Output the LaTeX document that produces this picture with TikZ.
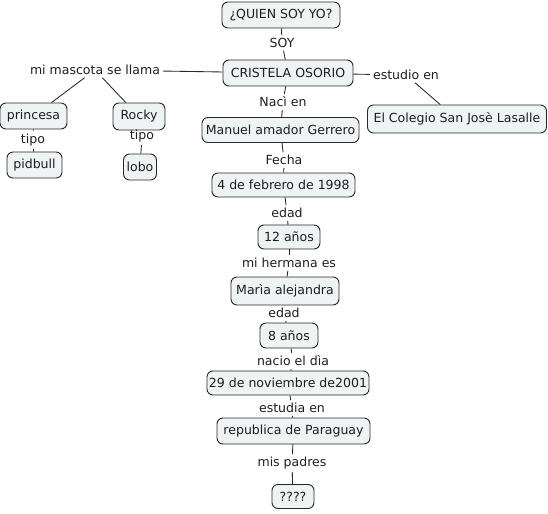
\documentclass[tikz,border=0pt]{standalone}
\usepackage{fontspec}
\setmainfont{DejaVu Sans}
\definecolor{boxfill}{RGB}{238,243,244}
\definecolor{boxline}{RGB}{40,40,40}
\definecolor{txt}{RGB}{30,30,30}
\definecolor{lnk}{RGB}{40,40,40}
\begin{document}
\begin{tikzpicture}[x=0.75pt,y=-0.75pt,
  every node/.style={font=\fontsize{9.4}{11}\selectfont, text=txt},
  cbox/.style={draw=boxline, fill=boxfill, rounded corners=4.5pt, line width=0.7pt, inner sep=0pt, align=center},
  lab/.style={inner sep=2pt},
  conn/.style={draw=lnk, line width=0.65pt}]
\useasboundingbox (0,0) rectangle (548,513);
% concepts
\node[cbox, minimum width=118*0.75pt, minimum height=26*0.75pt] (quien) at (281,15) {¿QUIEN SOY YO?};
\node[cbox, minimum width=130*0.75pt, minimum height=26*0.75pt] (cris) at (288,73) {CRISTELA OSORIO};
\node[cbox, minimum width=67*0.75pt, minimum height=26*0.75pt] (princ) at (33.5,116) {princesa};
\node[cbox, minimum width=52*0.75pt, minimum height=27*0.75pt] (rocky) at (139,116.5) {Rocky};
\node[cbox, minimum width=55*0.75pt, minimum height=26*0.75pt] (pid) at (34.5,165) {pidbull};
\node[cbox, minimum width=33*0.75pt, minimum height=26*0.75pt] (lobo) at (140,167) {lobo};
\node[cbox, minimum width=157*0.75pt, minimum height=25*0.75pt] (manuel) at (280.5,130) {Manuel amador Gerrero};
\node[cbox, minimum width=179*0.75pt, minimum height=28*0.75pt] (cole) at (457,119) {El Colegio San Josè Lasalle};
\node[cbox, minimum width=143*0.75pt, minimum height=24*0.75pt] (feb) at (283.5,185) {4 de febrero de 1998};
\node[cbox, minimum width=62*0.75pt, minimum height=24*0.75pt] (doce) at (289,237) {12 años};
\node[cbox, minimum width=108*0.75pt, minimum height=28*0.75pt] (maria) at (285,291) {Marìa alejandra};
\node[cbox, minimum width=58*0.75pt, minimum height=25*0.75pt] (ocho) at (289,335.5) {8 años};
\node[cbox, minimum width=162*0.75pt, minimum height=24*0.75pt] (nov) at (288,383) {29 de noviembre de2001};
\node[cbox, minimum width=153*0.75pt, minimum height=26*0.75pt] (rep) at (293.5,431) {republica de Paraguay};
\node[cbox, minimum width=42*0.75pt, minimum height=24*0.75pt] (q) at (293,496.5) {????};
% linking phrases
\node[lab] (soy) at (282,43) {SOY};
\node[lab] (masc) at (95,70) {mi mascota se llama};
\node[lab] (estu) at (406,75) {estudio en};
\node[lab] (tipo1) at (33,140) {tipo};
\node[lab] (tipo2) at (142,136) {tipo};
\node[lab] (naci) at (283,102) {Nacì en};
\node[lab] (fecha) at (284,160) {Fecha};
\node[lab] (edad1) at (287,213) {edad};
\node[lab] (herm) at (289,263) {mi hermana es};
\node[lab] (edad2) at (284,313) {edad};
\node[lab] (nacio) at (293,361) {nacio el dìa};
\node[lab] (estud) at (292,408) {estudia en};
\node[lab] (padres) at (292,463) {mis padres};
% connectors
\draw[conn] (quien) -- (soy);
\draw[conn] (soy) -- (cris);
\draw[conn] (cris) -- (masc);
\draw[conn] (masc) -- (princ);
\draw[conn] (masc) -- (rocky);
\draw[conn] (cris) -- (estu);
\draw[conn] (estu) -- (cole);
\draw[conn] (princ) -- (tipo1);
\draw[conn] (tipo1) -- (pid);
\draw[conn] (tipo2) -- (lobo);
\draw[conn] (cris) -- (naci);
\draw[conn] (naci) -- (manuel);
\draw[conn] (manuel) -- (fecha);
\draw[conn] (fecha) -- (feb);
\draw[conn] (feb) -- (edad1);
\draw[conn] (edad1) -- (doce);
\draw[conn] (doce) -- (herm);
\draw[conn] (herm) -- (maria);
\draw[conn] (maria) -- (edad2);
\draw[conn] (edad2) -- (ocho);
\draw[conn] (ocho) -- (nacio);
\draw[conn] (nacio) -- (nov);
\draw[conn] (nov) -- (estud);
\draw[conn] (estud) -- (rep);
\draw[conn] (rep) -- (padres);
\draw[conn] (padres) -- (q);
\end{tikzpicture}
\end{document}
